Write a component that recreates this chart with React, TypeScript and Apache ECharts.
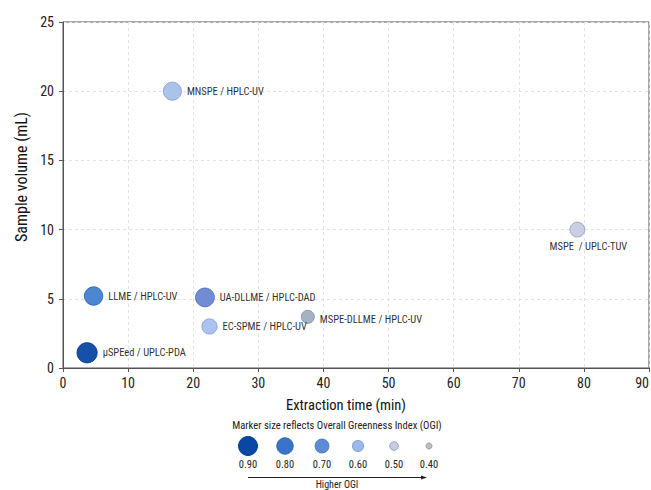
import React, { useEffect, useRef } from "react";
import * as echarts from "echarts";

const methods = [
  "µSPEed / UPLC-PDA",
  "LLME / HPLC-UV",
  "MNSPE / HPLC-UV",
  "UA-DLLME / HPLC-DAD",
  "EC-SPME / HPLC-UV",
  "MSPE-DLLME / HPLC-UV",
  "MSPE  / UPLC-TUV",
];
const extractionTime = [3.7, 4.7, 16.8, 21.8, 22.5, 37.6, 79.0];
const sampleVolume = [1.1, 5.2, 20.0, 5.1, 3.0, 3.7, 10.0];
const ogi = [0.9, 0.8, 0.78, 0.82, 0.62, 0.5, 0.6];

const legendOgi = [0.9, 0.8, 0.7, 0.6, 0.5, 0.4];
const legendLabels = ["0.90", "0.80", "0.70", "0.60", "0.50", "0.40"];

const xTicks = [0, 10, 20, 30, 40, 50, 60, 70, 80, 90];
const yTicks = [0, 5, 10, 15, 20, 25];

// styles
const pointColors = ["#0a47a4", "#4580cf", "#a7bfe8", "#6a86d2", "#a6c0ec", "#9fafc0", "#c7cbe3"];
const pointBorders = ["#083b8c", "#2f6bbf", "#86a3d8", "#5470c0", "#7fa0dc", "#8496aa", "#9aa0c0"];
const legendColors = ["#0a47a4", "#3a74c8", "#5d8bd4", "#9db8e8", "#c6cbe6", "#bdbdbd"];
const legendBorders = ["#083b8c", "#2f66b8", "#4a78c4", "#7f9fd8", "#9ea4c4", "#999999"];

const FONT = "'Roboto Condensed', 'DejaVu Sans Condensed', 'Liberation Sans Narrow', 'Liberation Sans', Arial, sans-serif";

export default function App() {
  const ref = useRef<HTMLDivElement>(null);
  useEffect(() => {
    if (!ref.current) return;
    const chart = echarts.init(ref.current, undefined, { renderer: "svg" });
    const dataSize = (v: number) => 4 + v * 18;
    const legendSize = (v: number) => 6 + (v - 0.4) * 26;
    const legendX = [248, 285, 322, 358, 394, 429];

    const data = methods.map((m, i) => {
      const item: any = {
        name: m,
        value: [extractionTime[i], sampleVolume[i], ogi[i]],
        symbolSize: dataSize(ogi[i]),
        itemStyle: { color: pointColors[i], borderColor: pointBorders[i], borderWidth: 1, opacity: 0.95 },
        label: {
          show: true,
          position: "right",
          distance: 5,
          formatter: m,
        },
      };
      if (i === 6) {
        item.label = { show: true, position: "bottom", distance: 3, offset: [11, 0], formatter: m };
      }
      if (i === 5) {
        item.label.offset = [0, 3];
      }
      return item;
    });

    const graphics: any[] = [
      {
        type: "text",
        x: 337,
        y: 425,
        style: {
          text: "Marker size reflects Overall Greenness Index (OGI)",
          font: `10.6px ${FONT}`,
          fill: "#222",
          textAlign: "center",
          textVerticalAlign: "middle",
        },
      },
    ];
    legendOgi.forEach((v, i) => {
      graphics.push({
        type: "circle",
        shape: { cx: legendX[i], cy: 446, r: legendSize(v) / 2 },
        style: { fill: legendColors[i], stroke: legendBorders[i], lineWidth: 1 },
      });
      graphics.push({
        type: "text",
        x: legendX[i],
        y: 464,
        style: {
          text: legendLabels[i],
          font: `10.5px ${FONT}`,
          fill: "#222",
          textAlign: "center",
          textVerticalAlign: "middle",
        },
      });
    });
    graphics.push({
      type: "line",
      shape: { x1: 248, y1: 477.5, x2: 422, y2: 477.5 },
      style: { stroke: "#222", lineWidth: 1 },
    });
    graphics.push({
      type: "polygon",
      shape: { points: [[421, 475.5], [427, 477.5], [421, 479.5]] },
      style: { fill: "#222" },
    });
    graphics.push({
      type: "text",
      x: 337,
      y: 484.5,
      style: {
        text: "Higher OGI",
        font: `10px ${FONT}`,
        fill: "#222",
        textAlign: "center",
        textVerticalAlign: "middle",
      },
    });

    chart.setOption({
      animation: false,
      backgroundColor: "#ffffff",
      textStyle: { fontFamily: FONT },
      grid: {
        left: 63,
        right: 2,
        top: 22,
        bottom: 122,
        outerBoundsMode: "none",
        containLabel: false,
        show: true,
        borderColor: "#555",
        borderWidth: 1,
        backgroundColor: "transparent",
      },
      xAxis: {
        type: "value",
        min: xTicks[0],
        max: xTicks[xTicks.length - 1],
        interval: 10,
        name: "Extraction time (min)",
        nameLocation: "middle",
        nameGap: 30,
        nameTextStyle: { fontSize: 14.5, color: "#111", fontFamily: FONT, padding: [0, 20, 0, 0] },
        axisLine: { show: true, lineStyle: { color: "#555" } },
        axisTick: { show: true, length: 4, lineStyle: { color: "#555" } },
        axisLabel: { fontSize: 14, color: "#222", margin: 8, fontFamily: FONT, alignMaxLabel: "right" },
        splitLine: { show: true, lineStyle: { color: "#e2e2e2", type: [3, 3] } },
      },
      yAxis: {
        type: "value",
        min: yTicks[0],
        max: yTicks[yTicks.length - 1],
        interval: 5,
        name: "Sample volume (mL)",
        nameLocation: "middle",
        nameGap: 33,
        nameTextStyle: { fontSize: 16, color: "#111", fontFamily: FONT, padding: [0, 0, 0, 36] },
        axisLine: { show: true, lineStyle: { color: "#555" } },
        axisTick: { show: true, length: 4, lineStyle: { color: "#555" } },
        axisLabel: { fontSize: 14, color: "#222", margin: 9, fontFamily: FONT },
        splitLine: { show: true, lineStyle: { color: "#e2e2e2", type: [3, 3] } },
      },
      series: [
        {
          type: "scatter",
          data,
          label: { color: "#222", fontSize: 10.5, fontFamily: FONT },
        },
      ],
      graphic: graphics,
    });
    return () => chart.dispose();
  }, []);
  return (
    <div
      ref={ref}
      style={{ position: "fixed", left: 0, top: 0, width: 651, height: 490 }}
    />
  );
}
